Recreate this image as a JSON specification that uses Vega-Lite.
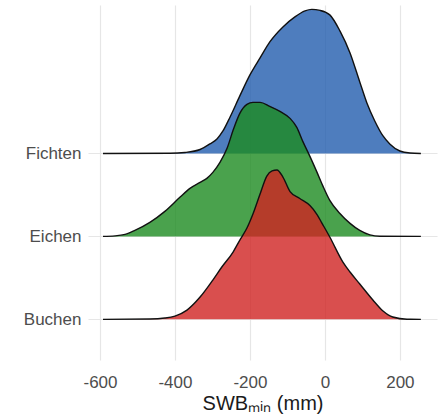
{
  "$schema": "https://vega.github.io/schema/vega-lite/v6.json",
  "width": 349,
  "height": 355,
  "autosize": {"type": "none"},
  "padding": {"left": 88, "top": 5, "right": 4, "bottom": 56},
  "background": "white",
  "config": {
    "view": {"stroke": null},
    "font": "Liberation Sans"
  },
  "datasets": {
    "ridges": [
      {"art": "Fichten", "swb": -592, "y": 3, "base": 3},
      {"art": "Fichten", "swb": -413, "y": 3.002, "base": 3},
      {"art": "Fichten", "swb": -373, "y": 3.012, "base": 3},
      {"art": "Fichten", "swb": -333, "y": 3.048, "base": 3},
      {"art": "Fichten", "swb": -307, "y": 3.115, "base": 3},
      {"art": "Fichten", "swb": -288, "y": 3.175, "base": 3},
      {"art": "Fichten", "swb": -272, "y": 3.271, "base": 3},
      {"art": "Fichten", "swb": -253, "y": 3.44, "base": 3},
      {"art": "Fichten", "swb": -227, "y": 3.694, "base": 3},
      {"art": "Fichten", "swb": -200, "y": 3.947, "base": 3},
      {"art": "Fichten", "swb": -173, "y": 4.152, "base": 3},
      {"art": "Fichten", "swb": -147, "y": 4.345, "base": 3},
      {"art": "Fichten", "swb": -112, "y": 4.526, "base": 3},
      {"art": "Fichten", "swb": -80, "y": 4.647, "base": 3},
      {"art": "Fichten", "swb": -53, "y": 4.719, "base": 3},
      {"art": "Fichten", "swb": -35, "y": 4.737, "base": 3},
      {"art": "Fichten", "swb": -13, "y": 4.725, "base": 3},
      {"art": "Fichten", "swb": 13, "y": 4.671, "base": 3},
      {"art": "Fichten", "swb": 40, "y": 4.478, "base": 3},
      {"art": "Fichten", "swb": 67, "y": 4.212, "base": 3},
      {"art": "Fichten", "swb": 93, "y": 3.862, "base": 3},
      {"art": "Fichten", "swb": 112, "y": 3.609, "base": 3},
      {"art": "Fichten", "swb": 133, "y": 3.392, "base": 3},
      {"art": "Fichten", "swb": 155, "y": 3.211, "base": 3},
      {"art": "Fichten", "swb": 173, "y": 3.115, "base": 3},
      {"art": "Fichten", "swb": 200, "y": 3.03, "base": 3},
      {"art": "Fichten", "swb": 227, "y": 3.006, "base": 3},
      {"art": "Fichten", "swb": 256, "y": 3, "base": 3},

      {"art": "Eichen", "swb": -592, "y": 2, "base": 2},
      {"art": "Eichen", "swb": -560, "y": 2.006, "base": 2},
      {"art": "Eichen", "swb": -533, "y": 2.024, "base": 2},
      {"art": "Eichen", "swb": -507, "y": 2.072, "base": 2},
      {"art": "Eichen", "swb": -467, "y": 2.169, "base": 2},
      {"art": "Eichen", "swb": -427, "y": 2.302, "base": 2},
      {"art": "Eichen", "swb": -387, "y": 2.471, "base": 2},
      {"art": "Eichen", "swb": -360, "y": 2.579, "base": 2},
      {"art": "Eichen", "swb": -333, "y": 2.651, "base": 2},
      {"art": "Eichen", "swb": -315, "y": 2.7, "base": 2},
      {"art": "Eichen", "swb": -299, "y": 2.772, "base": 2},
      {"art": "Eichen", "swb": -280, "y": 2.893, "base": 2},
      {"art": "Eichen", "swb": -261, "y": 3.062, "base": 2},
      {"art": "Eichen", "swb": -245, "y": 3.279, "base": 2},
      {"art": "Eichen", "swb": -227, "y": 3.484, "base": 2},
      {"art": "Eichen", "swb": -208, "y": 3.592, "base": 2},
      {"art": "Eichen", "swb": -192, "y": 3.616, "base": 2},
      {"art": "Eichen", "swb": -173, "y": 3.616, "base": 2},
      {"art": "Eichen", "swb": -147, "y": 3.568, "base": 2},
      {"art": "Eichen", "swb": -120, "y": 3.508, "base": 2},
      {"art": "Eichen", "swb": -93, "y": 3.423, "base": 2},
      {"art": "Eichen", "swb": -75, "y": 3.315, "base": 2},
      {"art": "Eichen", "swb": -59, "y": 3.146, "base": 2},
      {"art": "Eichen", "swb": -40, "y": 2.965, "base": 2},
      {"art": "Eichen", "swb": -21, "y": 2.772, "base": 2},
      {"art": "Eichen", "swb": -5, "y": 2.603, "base": 2},
      {"art": "Eichen", "swb": 13, "y": 2.434, "base": 2},
      {"art": "Eichen", "swb": 40, "y": 2.277, "base": 2},
      {"art": "Eichen", "swb": 67, "y": 2.157, "base": 2},
      {"art": "Eichen", "swb": 93, "y": 2.072, "base": 2},
      {"art": "Eichen", "swb": 120, "y": 2.018, "base": 2},
      {"art": "Eichen", "swb": 147, "y": 2.002, "base": 2},
      {"art": "Eichen", "swb": 256, "y": 2, "base": 2},

      {"art": "Buchen", "swb": -592, "y": 1, "base": 1},
      {"art": "Buchen", "swb": -467, "y": 1.004, "base": 1},
      {"art": "Buchen", "swb": -427, "y": 1.016, "base": 1},
      {"art": "Buchen", "swb": -400, "y": 1.04, "base": 1},
      {"art": "Buchen", "swb": -368, "y": 1.112, "base": 1},
      {"art": "Buchen", "swb": -333, "y": 1.269, "base": 1},
      {"art": "Buchen", "swb": -299, "y": 1.474, "base": 1},
      {"art": "Buchen", "swb": -275, "y": 1.631, "base": 1},
      {"art": "Buchen", "swb": -245, "y": 1.812, "base": 1},
      {"art": "Buchen", "swb": -227, "y": 1.956, "base": 1},
      {"art": "Buchen", "swb": -208, "y": 2.101, "base": 1},
      {"art": "Buchen", "swb": -192, "y": 2.27, "base": 1},
      {"art": "Buchen", "swb": -173, "y": 2.511, "base": 1},
      {"art": "Buchen", "swb": -155, "y": 2.728, "base": 1},
      {"art": "Buchen", "swb": -141, "y": 2.789, "base": 1},
      {"art": "Buchen", "swb": -128, "y": 2.801, "base": 1},
      {"art": "Buchen", "swb": -112, "y": 2.716, "base": 1},
      {"art": "Buchen", "swb": -93, "y": 2.54, "base": 1},
      {"art": "Buchen", "swb": -67, "y": 2.457, "base": 1},
      {"art": "Buchen", "swb": -40, "y": 2.372, "base": 1},
      {"art": "Buchen", "swb": -21, "y": 2.264, "base": 1},
      {"art": "Buchen", "swb": -8, "y": 2.161, "base": 1},
      {"art": "Buchen", "swb": 13, "y": 1.993, "base": 1},
      {"art": "Buchen", "swb": 48, "y": 1.691, "base": 1},
      {"art": "Buchen", "swb": 67, "y": 1.571, "base": 1},
      {"art": "Buchen", "swb": 93, "y": 1.426, "base": 1},
      {"art": "Buchen", "swb": 128, "y": 1.233, "base": 1},
      {"art": "Buchen", "swb": 155, "y": 1.1, "base": 1},
      {"art": "Buchen", "swb": 181, "y": 1.028, "base": 1},
      {"art": "Buchen", "swb": 219, "y": 1.001, "base": 1},
      {"art": "Buchen", "swb": 256, "y": 1, "base": 1}
    ]
  },
  "data": {"name": "ridges"},
  "encoding": {
    "x": {
      "field": "swb",
      "type": "quantitative",
      "scale": {"domain": [-632, 299], "nice": false, "zero": false},
      "axis": {
        "values": [-600, -400, -200, 0, 200],
        "labelExpr": "replace(datum.label, '\u2212', '-')",
        "title": "SWBₘᵢₙ (mm)",
        "domain": false,
        "ticks": false,
        "tickSize": 0,
        "grid": true,
        "gridColor": "#E6E6E6",
        "gridWidth": 1.2,
        "labelFontSize": 17,
        "labelColor": "#4D4D4D",
        "labelPadding": 14,
        "titleFontSize": 20,
        "titleFontWeight": "normal",
        "titleColor": "#1A1A1A",
        "titlePadding": 3
      }
    },
    "y": {
      "field": "y",
      "type": "quantitative",
      "scale": {"domain": [0.51, 4.79], "nice": false, "zero": false},
      "axis": {
        "values": [1, 2, 3],
        "labelExpr": "datum.value == 1 ? 'Buchen' : datum.value == 2 ? 'Eichen' : 'Fichten'",
        "title": null,
        "domain": false,
        "ticks": false,
        "tickSize": 0,
        "grid": true,
        "gridColor": "#E6E6E6",
        "gridWidth": 1.2,
        "labelFontSize": 17,
        "labelColor": "#4D4D4D",
        "labelPadding": 7
      }
    }
  },
  "layer": [
    {
      "transform": [{"filter": "datum.art == 'Fichten'"}],
      "mark": {"type": "area", "fill": "#225DAE", "fillOpacity": 0.8, "interpolate": "monotone"},
      "encoding": {"y2": {"field": "base"}}
    },
    {
      "transform": [{"filter": "datum.art == 'Fichten'"}],
      "mark": {"type": "line", "color": "#111111", "strokeWidth": 1.4, "interpolate": "monotone"},
      "encoding": {}
    },
    {
      "transform": [{"filter": "datum.art == 'Eichen'"}],
      "mark": {"type": "area", "fill": "#1D8B20", "fillOpacity": 0.8, "interpolate": "monotone"},
      "encoding": {"y2": {"field": "base"}}
    },
    {
      "transform": [{"filter": "datum.art == 'Eichen'"}],
      "mark": {"type": "line", "color": "#111111", "strokeWidth": 1.4, "interpolate": "monotone"},
      "encoding": {}
    },
    {
      "transform": [{"filter": "datum.art == 'Buchen'"}],
      "mark": {"type": "area", "fill": "#D02322", "fillOpacity": 0.8, "interpolate": "monotone"},
      "encoding": {"y2": {"field": "base"}}
    },
    {
      "transform": [{"filter": "datum.art == 'Buchen'"}],
      "mark": {"type": "line", "color": "#111111", "strokeWidth": 1.4, "interpolate": "monotone"},
      "encoding": {}
    }
  ]
}
